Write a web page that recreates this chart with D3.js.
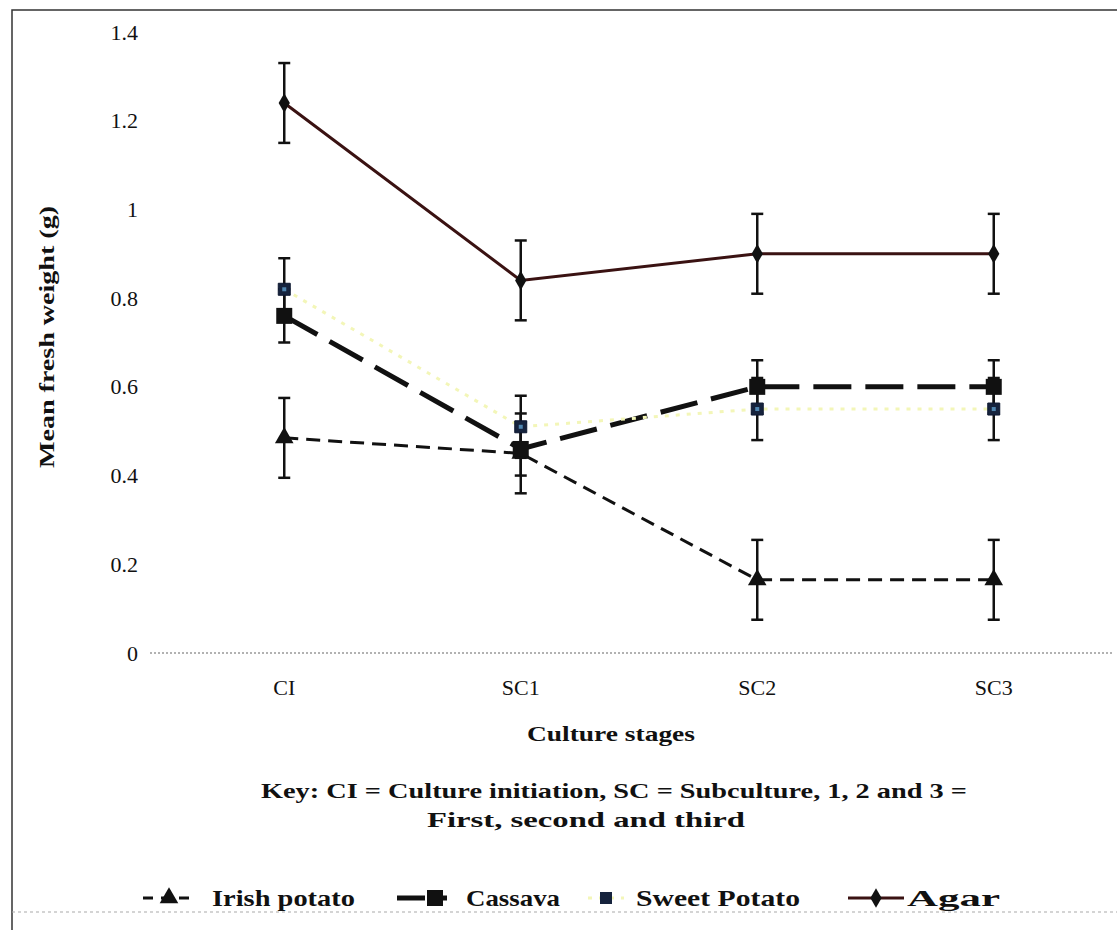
<!DOCTYPE html>
<html>
<head>
<meta charset="utf-8">
<script src="https://cdn.jsdelivr.net/npm/d3@7"></script>
<style>
  body { margin: 0; background: #fff; }
  svg text { font-family: "Liberation Serif", "DejaVu Serif", serif; fill: #111; }
</style>
</head>
<body>
<div id="chart"></div>
<script>
// culture stages on the x axis
const stages = ["CI", "SC1", "SC2", "SC3"];
const yTicks = [0, 0.2, 0.4, 0.6, 0.8, 1, 1.2, 1.4];

// mean fresh weight (g) and error per series
const irishPotato = [0.485, 0.45, 0.165, 0.165];
const irishErr = [0.09, 0.09, 0.09, 0.09];
const cassava = [0.76, 0.46, 0.6, 0.6];
const cassavaErr = [0.06, 0.06, 0.06, 0.06];
const sweetPotato = [0.82, 0.51, 0.55, 0.55];
const sweetErr = [0.07, 0.07, 0.07, 0.07];
const agar = [1.24, 0.84, 0.9, 0.9];
const agarErr = [0.09, 0.09, 0.09, 0.09];

const W = 1117, H = 930;

const svg = d3.select("#chart").append("svg")
    .attr("width", W)
    .attr("height", H);

// outer frame like the scanned figure
svg.append("path")
    .attr("d", "M1117,10 L12,10 L12,930")
    .attr("fill", "none")
    .attr("stroke", "#333")
    .attr("stroke-width", 1.5);
svg.append("line")
    .attr("x1", 12).attr("x2", 1117)
    .attr("y1", 912).attr("y2", 912)
    .attr("stroke", "#aaa")
    .attr("stroke-width", 1.2)
    .attr("stroke-dasharray", "3,3");

const x = d3.scaleBand().domain(stages).range([166, 1112]);
const cx = d => x(d) + x.bandwidth() / 2;
const y = d3.scaleLinear().domain([0, 1.4]).range([653, 32]);

// y tick labels (no axis line, Excel style)
const yAxis = d3.axisLeft(y).tickValues(yTicks).tickSize(0).tickPadding(0)
    .tickFormat(d => d3.format("~g")(d));
const gy = svg.append("g").attr("transform", "translate(138,0)").call(yAxis);
gy.select(".domain").remove();
gy.selectAll("text")
    .style("font-family", "Liberation Serif, serif")
    .style("font-size", "22px")
    .attr("fill", "#111");

// zero line, dotted grey
svg.append("line")
    .attr("x1", 150).attr("x2", 1112)
    .attr("y1", y(0)).attr("y2", y(0))
    .attr("stroke", "#999")
    .attr("stroke-width", 1.5)
    .attr("stroke-dasharray", "2,2");

// x category labels
const xAxis = d3.axisBottom(x).tickSize(0).tickPadding(0);
const gx = svg.append("g").attr("transform", "translate(0,679)").call(xAxis);
gx.select(".domain").remove();
gx.selectAll("text")
    .style("font-family", "Liberation Serif, serif")
    .style("font-size", "22px")
    .attr("fill", "#111");

// titles
svg.append("text")
    .attr("transform", "translate(54,337) rotate(-90)")
    .attr("text-anchor", "middle")
    .attr("font-weight", "bold")
    .attr("font-size", 22)
    .attr("textLength", 262)
    .attr("lengthAdjust", "spacingAndGlyphs")
    .text("Mean fresh weight (g)");

svg.append("text")
    .attr("x", 611).attr("y", 741)
    .attr("text-anchor", "middle")
    .attr("font-weight", "bold")
    .attr("font-size", 22)
    .attr("textLength", 168)
    .attr("lengthAdjust", "spacingAndGlyphs")
    .text("Culture stages");

svg.append("text")
    .attr("x", 614).attr("y", 798)
    .attr("text-anchor", "middle")
    .attr("font-weight", "bold")
    .attr("font-size", 22)
    .attr("textLength", 706)
    .attr("lengthAdjust", "spacingAndGlyphs")
    .text("Key: CI = Culture initiation, SC = Subculture, 1, 2 and 3 =");

svg.append("text")
    .attr("x", 586).attr("y", 827)
    .attr("text-anchor", "middle")
    .attr("font-weight", "bold")
    .attr("font-size", 22)
    .attr("textLength", 318)
    .attr("lengthAdjust", "spacingAndGlyphs")
    .text("First, second and third");

const series = [
    { name: "Irish potato", values: irishPotato, err: irishErr, stroke: "#111", width: 3, dash: "14,8", marker: "triangle", mSize: 150, fill: "#111" },
    { name: "Cassava", values: cassava, err: cassavaErr, stroke: "#111", width: 5, dash: "38,14", marker: "square", mSize: 256, fill: "#111" },
    { name: "Sweet Potato", values: sweetPotato, err: sweetErr, stroke: "#f3f6b8", width: 3, dash: "4,7", marker: "square", mSize: 144, fill: "#16233d" },
    { name: "Agar", values: agar, err: agarErr, stroke: "#3a1212", width: 3, dash: null, marker: "diamond", mSize: 110, fill: "#111" }
];

const symbolFor = m => m === "triangle" ? d3.symbolTriangle : (m === "diamond" ? d3.symbolDiamond : d3.symbolSquare);

// error bars
series.forEach(s => {
    const g = svg.append("g");
    stages.forEach((st, i) => {
        const hi = y(s.values[i] + s.err[i]), lo = y(s.values[i] - s.err[i]);
        g.append("line").attr("x1", cx(st)).attr("x2", cx(st)).attr("y1", hi).attr("y2", lo)
            .attr("stroke", "#111").attr("stroke-width", 2.5);
        [hi, lo].forEach(v => {
            g.append("line").attr("x1", cx(st) - 6).attr("x2", cx(st) + 6).attr("y1", v).attr("y2", v)
                .attr("stroke", "#111").attr("stroke-width", 2.5);
        });
    });
});

// lines
const line = d3.line().x((d, i) => cx(stages[i])).y(d => y(d));
series.forEach(s => {
    svg.append("path")
        .datum(s.values)
        .attr("d", line)
        .attr("fill", "none")
        .attr("stroke", s.stroke)
        .attr("stroke-width", s.width)
        .attr("stroke-dasharray", s.dash);
});

// markers
series.forEach(s => {
    svg.append("g").selectAll("path")
        .data(s.values)
        .join("path")
        .attr("transform", (d, i) => `translate(${cx(stages[i])},${y(d)})`)
        .attr("d", d3.symbol().type(symbolFor(s.marker)).size(s.mSize))
        .attr("fill", s.fill)
        .attr("stroke", s.name === "Sweet Potato" ? "#0e1830" : "none")
        .attr("stroke-width", 1);
    if (s.name === "Sweet Potato") {
        svg.append("g").selectAll("rect")
            .data(s.values)
            .join("rect")
            .attr("x", (d, i) => cx(stages[i]) - 2)
            .attr("y", d => y(d) - 2)
            .attr("width", 4).attr("height", 4)
            .attr("fill", "#4f86b0");
    }
});

// legend
const legendItems = [
    { s: series[0], x0: 143, x1: 195, text: 212, tl: 143 },
    { s: series[1], x0: 397, x1: 447, text: 466, tl: 94 },
    { s: series[2], x0: 588, x1: 624, text: 636, tl: 164 },
    { s: series[3], x0: 848, x1: 904, text: 907, tl: 93 }
];
const ly = 898;
legendItems.forEach(it => {
    const s = it.s;
    const g = svg.append("g");
    g.append("line")
        .attr("x1", it.x0).attr("x2", it.x1).attr("y1", ly).attr("y2", ly)
        .attr("stroke", s.stroke)
        .attr("stroke-width", s.width)
        .attr("stroke-dasharray", s.name === "Irish potato" ? "10,8" : (s.name === "Cassava" ? "28,4" : s.dash));
    g.append("path")
        .attr("transform", `translate(${(it.x0 + it.x1) / 2 + (s.name === "Cassava" ? 13 : 0)},${ly})`)
        .attr("d", d3.symbol().type(symbolFor(s.marker)).size(s.mSize))
        .attr("fill", s.fill);
    g.append("text")
        .attr("x", it.text).attr("y", ly + 8)
        .attr("font-weight", "bold")
        .attr("font-size", 23)
        .attr("textLength", it.tl)
        .attr("lengthAdjust", "spacingAndGlyphs")
        .text(s.name);
});
</script>
</body>
</html>
